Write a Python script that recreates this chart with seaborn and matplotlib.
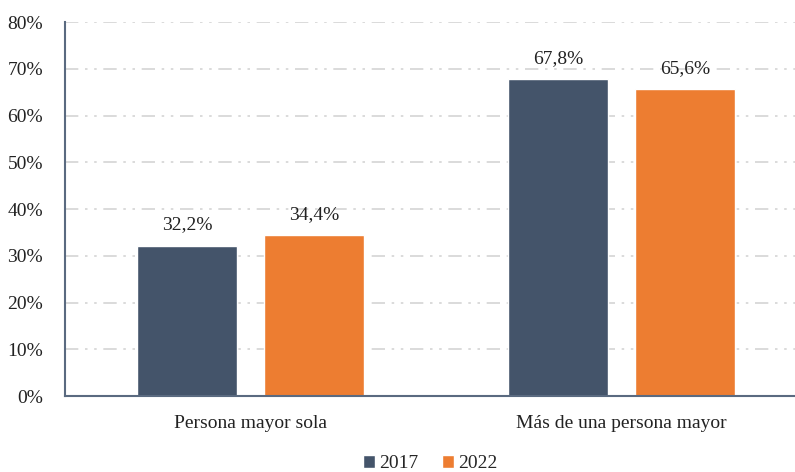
import matplotlib
matplotlib.use('Agg')
import matplotlib.pyplot as plt
import seaborn as sns
import pandas as pd

# data
categorias = ['Persona mayor sola', 'Más de una persona mayor']
anios = ['2017', '2022']
valores_2017 = [32.2, 67.8]
valores_2022 = [34.4, 65.6]

df = pd.DataFrame({
    'categoria': categorias * 2,
    'anio': [anios[0]] * 2 + [anios[1]] * 2,
    'valor': valores_2017 + valores_2022,
})

sns.set_style('white')
plt.rcParams['font.family'] = ['Liberation Serif', 'DejaVu Serif']

colores = {'2017': '#44546A', '2022': '#ED7D31'}

fig = plt.figure(figsize=(7.95, 4.72), dpi=100)
ax = fig.add_axes([0.082, 0.161, 0.933, 0.792])

sns.barplot(data=df, x='categoria', y='valor', hue='anio', palette=colores,
            width=0.686, gap=0.213, saturation=1, ax=ax, legend=True)

ax.set_ylim(0, 80)
ax.set_xlim(-0.5, 1.5)
ax.set_yticks(range(0, 81, 10))
ax.set_yticklabels([f'{v}%' for v in range(0, 81, 10)])
ax.set_xlabel('')
ax.set_ylabel('')
ax.tick_params(axis='both', length=0, labelsize=14, colors='#222222')
ax.tick_params(axis='x', pad=14)
ax.tick_params(axis='y', pad=16)

ax.grid(axis='y', color='#d4d4d4', linewidth=1.2, linestyle=(0, (8, 4, 1.5, 4, 1.5, 4)))
ax.set_axisbelow(True)

for s in ['top', 'right']:
    ax.spines[s].set_visible(False)
for s in ['left', 'bottom']:
    ax.spines[s].set_color('#5a6a80')
    ax.spines[s].set_linewidth(1.5)

for cont in ax.containers:
    ax.bar_label(cont, labels=[f'{v:.1f}%'.replace('.', ',') for v in cont.datavalues],
                 padding=9, fontsize=14, color='#222222')

handles, labels = ax.get_legend_handles_labels()
ax.legend(handles, labels, loc='lower center', bbox_to_anchor=(0.492, -0.25),
          ncol=2, frameon=False, fontsize=14, handlelength=0.65, handleheight=0.65,
          handletextpad=0.2, columnspacing=1.2)

fig.savefig('out.png', dpi=100)
